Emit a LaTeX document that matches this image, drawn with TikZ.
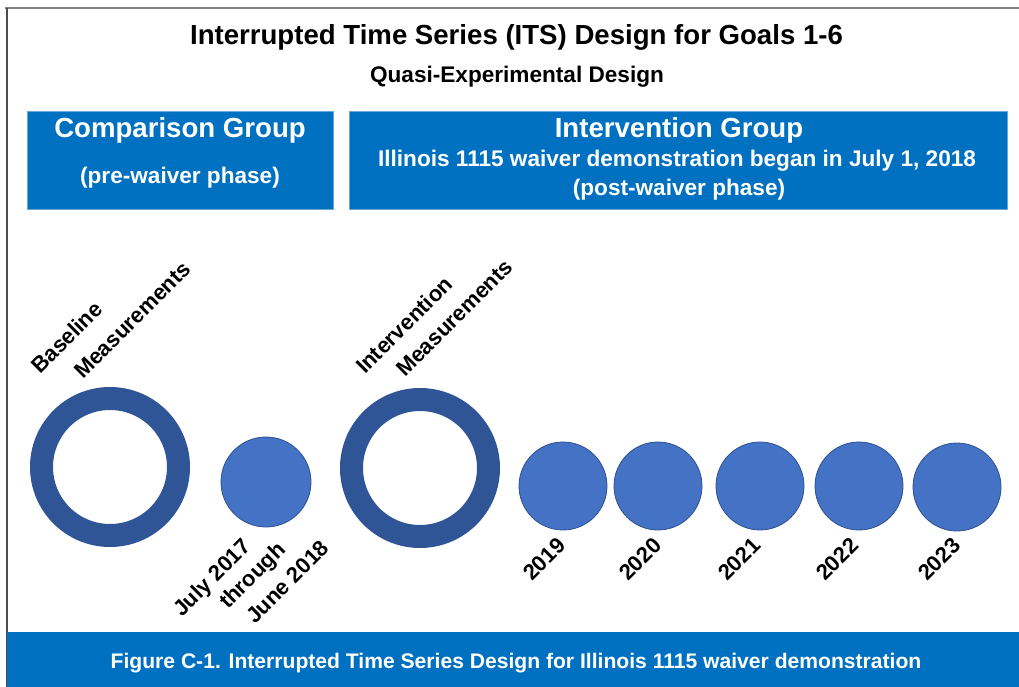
\documentclass[tikz,border=0pt]{standalone}
\usepackage{fontspec}
\setmainfont{Liberation Sans}
\definecolor{boxblue}{HTML}{0070C0}
\definecolor{ringblue}{HTML}{2F5597}
\definecolor{dotblue}{HTML}{4472C4}
\definecolor{dotedge}{HTML}{2F528F}
\begin{document}
\begin{tikzpicture}[x=1pt,y=-1pt,
        ring/.style={circle,draw=ringblue,line width=23pt,minimum size=137pt,inner sep=0pt},
        dot/.style={circle,fill=dotblue,draw=dotedge,line width=0.8pt,minimum size=88pt,inner sep=0pt},
        lbl/.style={rotate=45,anchor=base west,inner sep=0pt,font=\fontsize{22}{26}\selectfont\bfseries},
        panel/.style={fill=boxblue,draw=boxblue!60!white,line width=0.6pt,inner sep=0pt},
        head/.style={anchor=base,inner sep=0pt,font=\fontsize{#1}{#1}\selectfont\bfseries},
        head/.default=22.6]
        \useasboundingbox (0,0) rectangle (1019,687);
        % frame
        \draw[gray,line width=2pt] (5,8) -- (1019,8);
        \draw[black!70,line width=1.5pt] (7,8) -- (7,687);
        % titles
        \node[head=27.6] (title) at (516.5,45) {Interrupted Time Series (ITS) Design for Goals 1-6};
        \node[head] (subtitle) at (517,83) {Quasi-Experimental Design};
        % group panels
        \node[panel,minimum width=306pt,minimum height=98pt] (cmp) at (180,160) {};
        \node[panel,minimum width=658pt,minimum height=98pt] (int) at (678,160) {};
        \node[head=27.6,white] (cmphead) at (180,138) {Comparison Group};
        \node[head,white] (cmpsub) at (180,183) {(pre-waiver phase)};
        \node[head=27.6,white] (inthead) at (679,138) {Intervention Group};
        \node[head,white] (intline) at (677,167) {Illinois 1115 waiver demonstration began in July 1, 2018};
        \node[head,white] (intsub) at (679,196) {(post-waiver phase)};
        % measurement circles
        \node[ring] (base) at (110,467) {};
        \node[dot,minimum size=90pt] (pre) at (266,482) {};
        \node[ring] (inter) at (420,468) {};
        \node[dot] (y2019) at (563,486) {};
        \node[dot] (y2020) at (658,486) {};
        \node[dot] (y2021) at (760,486) {};
        \node[dot] (y2022) at (859,486) {};
        \node[dot] (y2023) at (957,487) {};
        % rotated labels
        \node[lbl] (baseA) at (40,375) {Baseline};
        \node[lbl] (baseB) at (83,380) {Measurements};
        \node[lbl] (interA) at (365,375) {Intervention};
        \node[lbl] (interB) at (405,378) {Measurements};
        \node[lbl] (preA) at (182,618) {July 2017};
        \node[lbl] (preB) at (228,610) {through};
        \node[lbl] (preC) at (255,625) {June 2018};
        \node[lbl] (l2019) at (532,582) {2019};
        \node[lbl] (l2020) at (628,582) {2020};
        \node[lbl] (l2021) at (727,582) {2021};
        \node[lbl] (l2022) at (825,582) {2022};
        \node[lbl] (l2023) at (927,582) {2023};
        % caption band
        \fill[boxblue] (7,632) rectangle (1019,687);
        \node[head=21.1,white] (caption) at (516,668) {Figure C-1. Interrupted Time Series Design for Illinois 1115 waiver demonstration};
\end{tikzpicture}
\end{document}
